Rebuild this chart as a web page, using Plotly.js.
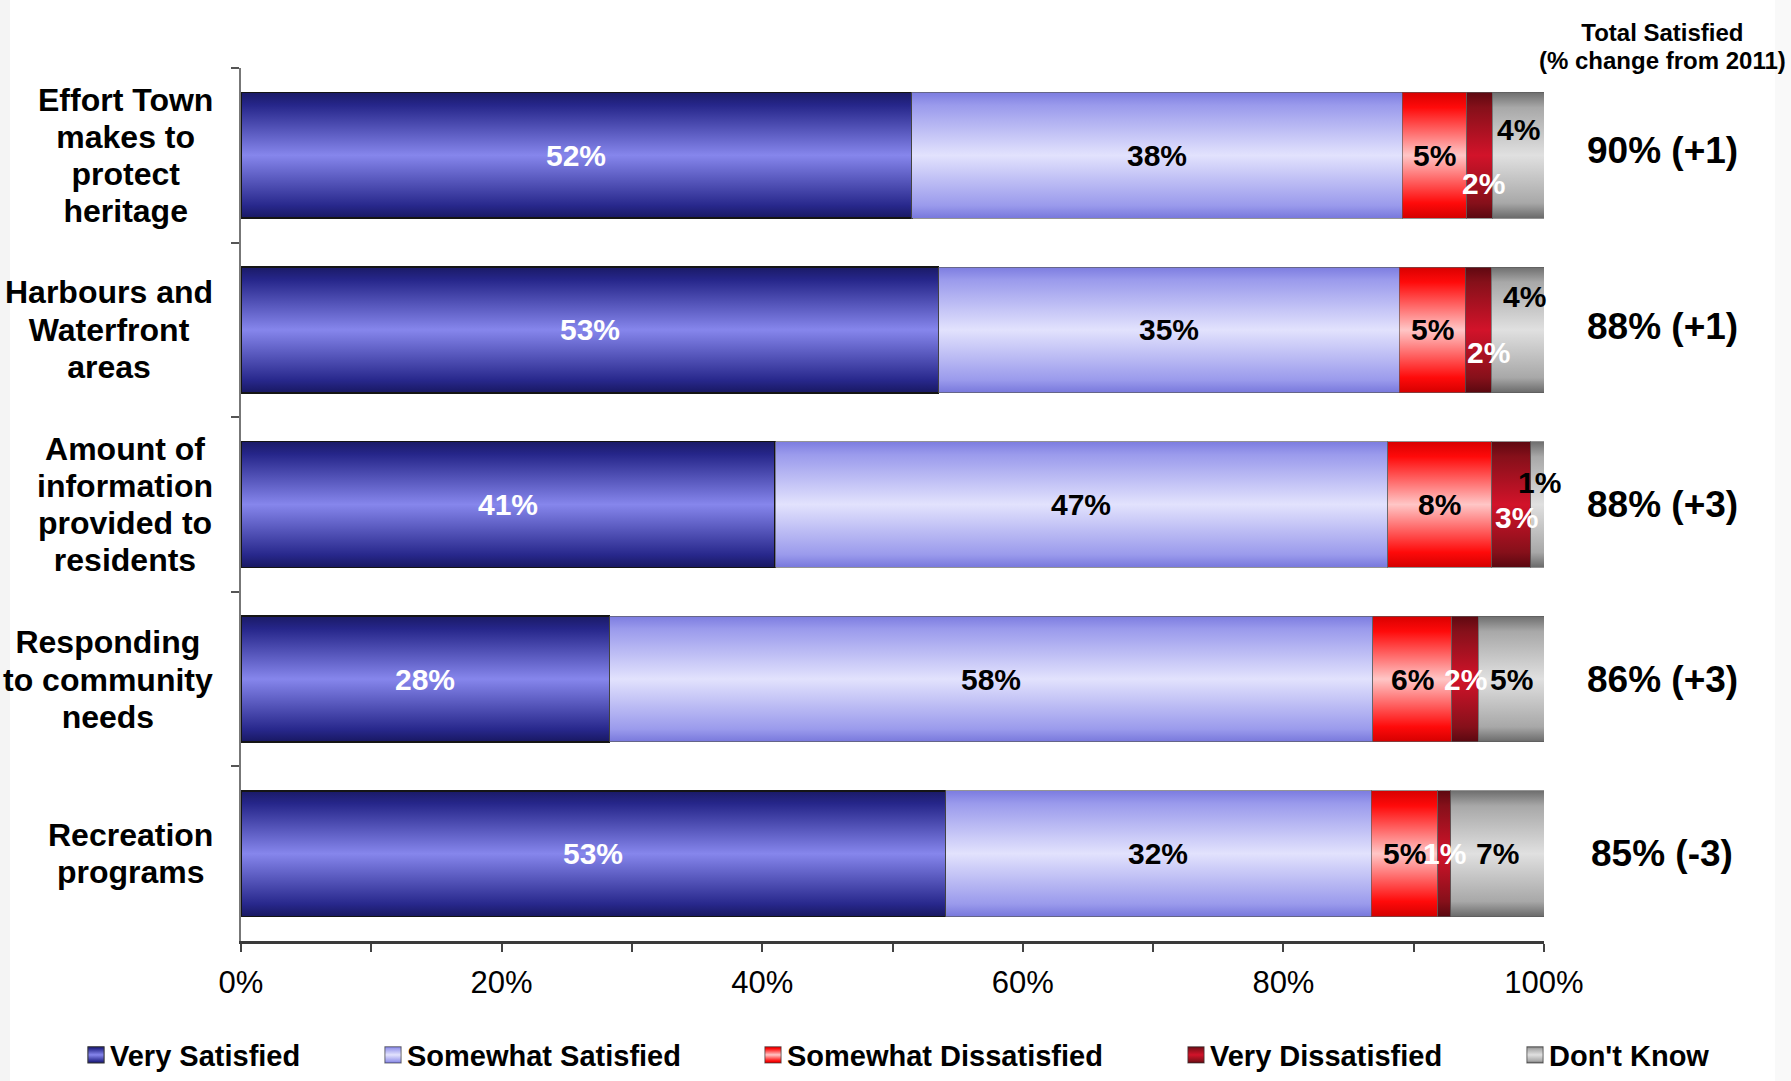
<!DOCTYPE html>
<html>
<head>
<meta charset="utf-8">
<script src="https://cdn.plot.ly/plotly-3.0.1.min.js"></script>
<style>
  html, body { margin: 0; padding: 0; background: #ffffff; }
  #chart { width: 1791px; height: 1081px; }
</style>
</head>
<body>
<div id="chart"></div>
<script>
// Survey items (top to bottom) and their multi-line display labels
const categories = [
  'Effort Town makes to protect heritage',
  'Harbours and Waterfront areas',
  'Amount of information provided to residents',
  'Responding to community needs',
  'Recreation programs'
];
const categoryLabels = [
  'Effort Town<br>makes to<br>protect<br>heritage',
  'Harbours and<br>Waterfront<br>areas',
  'Amount of<br>information<br>provided to<br>residents',
  'Responding<br>to community<br>needs',
  'Recreation<br>programs'
];

// Response shares (%)
const verySatisfied        = [52, 53, 41, 28, 53];
const somewhatSatisfied    = [38, 35, 47, 58, 32];
const somewhatDissatisfied = [5, 5, 8, 6, 5];
const veryDissatisfied     = [2, 2, 3, 2, 1];
const dontKnow             = [4, 4, 1, 5, 7];

// Right-hand summary column
const totalSatisfied = [90, 88, 88, 86, 85];
const changeFrom2011 = ['+1', '+1', '+3', '+3', '-3'];

// Axis ticks
const xTickStep = 20;
const xMinorStep = 10;

const FONT = 'Liberation Sans, Arial, Helvetica, sans-serif';

const series = [
  { name: 'Very Satisfied',        values: verySatisfied,        flat: '#4a4ab0', text: '#ffffff', legendX: 70,
    stops: [['0%', '#1a1a66'], ['10%', '#26268a'], ['50%', '#8686ec'], ['90%', '#28288c'], ['100%', '#181862']] },
  { name: 'Somewhat Satisfied',    values: somewhatSatisfied,    flat: '#b4b4f4', text: '#000000', legendX: 367,
    stops: [['0%', '#7c7ce0'], ['10%', '#9a9aec'], ['50%', '#e2e2fd'], ['90%', '#9a9aec'], ['100%', '#7878dc']] },
  { name: 'Somewhat Dissatisfied', values: somewhatDissatisfied, flat: '#ff4040', text: '#000000', legendX: 747,
    stops: [['0%', '#d80000'], ['12%', '#ff0a0a'], ['50%', '#ffc6c6'], ['88%', '#ff0a0a'], ['100%', '#d40000']] },
  { name: 'Very Dissatisfied',     values: veryDissatisfied,     flat: '#a00c1c', text: '#ffffff', legendX: 1170,
    stops: [['0%', '#5e0810'], ['12%', '#86101a'], ['50%', '#d2132a'], ['88%', '#86101a'], ['100%', '#5a0810']] },
  { name: "Don't Know",            values: dontKnow,             flat: '#c0c0c0', text: '#000000', legendX: 1509,
    stops: [['0%', '#6e6e6e'], ['12%', '#a8a8a8'], ['50%', '#e0e0e0'], ['88%', '#a8a8a8'], ['100%', '#6a6a6a']] }
];

// Pixel nudges for labels of narrow segments: "row-series": [dx, dy (up)]
const labelNudges = {
  '0-3': [4, -28], '0-4': [0, 26],
  '1-3': [10, -23], '1-4': [7, 33],
  '2-3': [5, -13], '2-4': [2, 22]
};

// Tighter line spacing (in em) for the multi-line text blocks
const BLOCK_LINE_SPACING = 1.16;

const W = 1791, H = 1081;
const margin = { l: 241, r: 247, t: 68, b: 140 };

const traces = series.map((s, i) => ({
  type: 'bar',
  orientation: 'h',
  name: s.name,
  y: categories,
  x: s.values,
  marker: {
    color: s.flat,
    line: { color: i === 0 ? '#151515' : 'rgba(90,90,90,0.65)', width: i === 0 ? 1.6 : 1 }
  },
  hoverinfo: 'skip',
  legend: i === 0 ? 'legend' : 'legend' + (i + 1)
}));

const annotations = [];

// Segment value labels, centred on each normalised segment
categories.forEach((cat, r) => {
  const total = series.reduce((acc, s) => acc + s.values[r], 0);
  let cum = 0;
  series.forEach((s, k) => {
    const share = s.values[r] / total * 100;
    const mid = cum + share / 2;
    cum += share;
    const nudge = labelNudges[r + '-' + k] || [0, 0];
    annotations.push({
      xref: 'x', yref: 'y', x: mid, y: cat,
      text: s.values[r] + '%',
      showarrow: false, xanchor: 'center', yanchor: 'middle',
      xshift: nudge[0], yshift: nudge[1],
      font: { family: FONT, size: 30, color: s.text, weight: 'bold' }
    });
  });
});

// Category labels on the left
categories.forEach((cat, r) => {
  annotations.push({
    xref: 'paper', yref: 'y', x: 0, y: cat, xshift: -26,
    text: categoryLabels[r], align: 'center',
    showarrow: false, xanchor: 'right', yanchor: 'middle',
    font: { family: FONT, size: 32, color: '#000000', weight: 'bold' }
  });
});

// Total satisfied column
const summaryX = (1662 - margin.l) / (W - margin.l - margin.r);
categories.forEach((cat, r) => {
  annotations.push({
    xref: 'paper', yref: 'y', x: summaryX, y: cat,
    text: totalSatisfied[r] + '% (' + changeFrom2011[r] + ')',
    showarrow: false, xanchor: 'center', yanchor: 'middle',
    yshift: r === 0 ? 5 : (r === 1 ? 3 : 0),
    font: { family: FONT, size: 37, color: '#000000', weight: 'bold' }
  });
});
annotations.push({
  xref: 'paper', yref: 'paper', x: summaryX, y: (H - margin.b - 46) / (H - margin.t - margin.b),
  text: 'Total Satisfied<br>(% change from 2011)', align: 'center',
  showarrow: false, xanchor: 'center', yanchor: 'middle',
  font: { family: FONT, size: 24, color: '#000000', weight: 'bold' }
});

const layout = {
  width: W, height: H,
  margin: margin,
  paper_bgcolor: '#ffffff',
  plot_bgcolor: 'rgba(0,0,0,0)',
  barmode: 'stack',
  barnorm: 'percent',
  bargap: 0.28,
  font: { family: FONT, color: '#000000' },
  xaxis: {
    range: [0, 100],
    tick0: 0, dtick: xTickStep, ticksuffix: '%',
    ticks: 'outside', ticklen: 8, tickwidth: 1.5, tickcolor: '#444444',
    minor: { dtick: xMinorStep, ticks: 'outside', ticklen: 8, tickwidth: 1.5, tickcolor: '#444444' },
    ticklabelstandoff: 4,
    tickfont: { family: FONT, size: 31, color: '#000000' },
    showgrid: false, zeroline: false,
    showline: true, linecolor: '#3a3a3a', linewidth: 3,
    fixedrange: true
  },
  yaxis: {
    type: 'category',
    autorange: 'reversed',
    showticklabels: false,
    ticks: 'outside', tickson: 'boundaries', ticklen: 8, tickwidth: 1.5, tickcolor: '#555555',
    showgrid: false, zeroline: false,
    showline: true, linecolor: '#777777', linewidth: 2,
    fixedrange: true
  },
  annotations: annotations,
  shapes: [
    // faint edge shading of the slide background
    { type: 'rect', xref: 'paper', yref: 'paper',
      x0: -margin.l / (W - margin.l - margin.r), x1: (10 - margin.l) / (W - margin.l - margin.r),
      y0: -margin.b / (H - margin.t - margin.b), y1: 1 + margin.t / (H - margin.t - margin.b),
      fillcolor: 'rgba(0,0,0,0.045)', line: { width: 0 }, layer: 'below' },
    { type: 'rect', xref: 'paper', yref: 'paper',
      x0: (W - 16 - margin.l) / (W - margin.l - margin.r), x1: (W - margin.l) / (W - margin.l - margin.r),
      y0: -margin.b / (H - margin.t - margin.b), y1: 1 + margin.t / (H - margin.t - margin.b),
      fillcolor: 'rgba(0,0,0,0.025)', line: { width: 0 }, layer: 'below' }
  ],
  showlegend: true
};

// One single-entry legend per series, spaced along the bottom
series.forEach((s, i) => {
  const key = i === 0 ? 'legend' : 'legend' + (i + 1);
  layout[key] = {
    orientation: 'h',
    xref: 'container', yref: 'container',
    x: s.legendX / W, y: 1 - 1055 / H,
    xanchor: 'left', yanchor: 'middle',
    bgcolor: 'rgba(0,0,0,0)', borderwidth: 0,
    font: { family: FONT, size: 29, color: '#000000', weight: 'bold' },
    itemclick: false, itemdoubleclick: false
  };
});

const gd = document.getElementById('chart');

// Glossy vertical shading for the bars and legend swatches
function applyGradients() {
  const svg = gd.querySelector('.main-svg');
  if (!svg) return;
  let defs = svg.querySelector('defs');
  if (!defs) {
    defs = document.createElementNS('http://www.w3.org/2000/svg', 'defs');
    svg.insertBefore(defs, svg.firstChild);
  }
  series.forEach((s, i) => {
    const g = document.createElementNS('http://www.w3.org/2000/svg', 'linearGradient');
    g.setAttribute('id', 'barShade' + i);
    g.setAttribute('x1', '0'); g.setAttribute('y1', '0');
    g.setAttribute('x2', '0'); g.setAttribute('y2', '1');
    s.stops.forEach(([off, col]) => {
      const st = document.createElementNS('http://www.w3.org/2000/svg', 'stop');
      st.setAttribute('offset', off);
      st.setAttribute('stop-color', col);
      g.appendChild(st);
    });
    defs.appendChild(g);
  });

  gd.querySelectorAll('.barlayer .trace').forEach(el => {
    const cd = el.__data__;
    const idx = cd && cd[0] && cd[0].trace ? cd[0].trace.index : null;
    if (idx === null) return;
    el.querySelectorAll('.point path').forEach(p => { p.style.fill = 'url(#barShade' + idx + ')'; });
  });

  // legend entries of every legend box (legend, legend2, ...)
  gd.querySelectorAll('g.traces').forEach(el => {
    const d = el.__data__;
    const idx = d && d[0] && d[0].trace ? d[0].trace.index : null;
    if (idx === null) return;
    el.querySelectorAll('.legendpoints path').forEach(p => {
      p.style.fill = 'url(#barShade' + idx + ')';
      p.style.stroke = '#333333';
      p.style.strokeWidth = '0.8px';
      const base = p.getAttribute('transform') || '';
      p.setAttribute('transform', (base + ' translate(6,0) scale(1.35)').trim());
    });
  });
}

// Tighten line spacing of multi-line annotation blocks, keeping each block centred
function tightenLines() {
  gd.querySelectorAll('.annotation-text').forEach(t => {
    const lines = t.querySelectorAll('tspan.line');
    const n = lines.length;
    if (n < 2) return;
    const extra = (1.3 - BLOCK_LINE_SPACING) * (n - 1) / 2;
    lines.forEach((ln, i) => {
      ln.setAttribute('dy', (i * BLOCK_LINE_SPACING + extra) + 'em');
    });
  });
}

Plotly.newPlot(gd, traces, layout, { displayModeBar: false, responsive: false })
  .then(() => { applyGradients(); tightenLines(); });
</script>
</body>
</html>
